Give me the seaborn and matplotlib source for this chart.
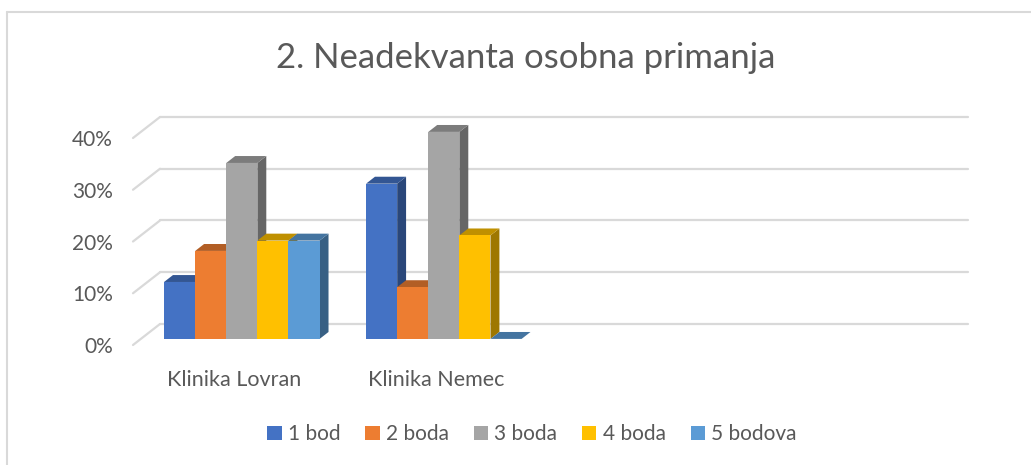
import matplotlib
matplotlib.use("Agg")
import matplotlib.pyplot as plt
import seaborn as sns
import pandas as pd
import numpy as np
from matplotlib.patches import Polygon, Rectangle
from matplotlib.lines import Line2D
import matplotlib.colors as mcolors

# ---- data ----
categories = ["Klinika Lovran", "Klinika Nemec"]
series = ["1 bod", "2 boda", "3 boda", "4 boda", "5 bodova"]
lovran = [0.11, 0.17, 0.34, 0.19, 0.19]
nemec = [0.30, 0.10, 0.40, 0.20, 0.00]
colors = ["#4472C4", "#ED7D31", "#A5A5A5", "#FFC000", "#5B9BD5"]
yticks = [0.0, 0.1, 0.2, 0.3, 0.4]
ytick_labels = ["0%", "10%", "20%", "30%", "40%"]
title = "2. Neadekvanta osobna primanja"

df = pd.DataFrame({
    "cat": [c for c in categories for _ in series],
    "series": series * len(categories),
    "val": lovran + nemec,
})

sns.set_theme(style="white")
plt.rcParams["font.family"] = ["Lato", "DejaVu Sans"]

W, H = 1031, 465
fig = plt.figure(figsize=(W / 100, H / 100), dpi=100)

# front plane of the floor: pixel x 133..941, y 345 (0%) .. 138 (40%)
L, R, B, T = 133, 941, 345, 138
ax = fig.add_axes([L / W, 1 - B / H, (R - L) / W, (B - T) / H])
ax.set_facecolor("none")

sns.barplot(data=df, x="cat", y="val", hue="series", order=categories,
            hue_order=series, palette=colors, width=0.77, ax=ax,
            legend=False, saturation=1, linewidth=0, errorbar=None)

ax.set_xlim(-0.5, 3.5)
ax.set_ylim(0, 0.4)

# pixel -> data conversions
px_x = 4.0 / (R - L)
px_y = 0.4 / (B - T)
depth = (27, 21)  # floor depth vector in px (right, up)
f0, f1 = 0.29, 0.62

grid_c = "#D9D9D9"
# back wall gridlines + left side diagonals
for yv in yticks:
    xb0 = -0.5 + depth[0] * px_x
    xb1 = 3.5 + depth[0] * px_x
    yb = yv + depth[1] * px_y
    ax.add_line(Line2D([xb0, xb1], [yb, yb], color=grid_c, lw=1.6,
                       zorder=0, clip_on=False))
    ax.add_line(Line2D([-0.5, xb0], [yv, yb], color=grid_c, lw=1.6,
                       zorder=0, clip_on=False))

def shade(c, f):
    r, g, b = mcolors.to_rgb(c)
    return (r * f, g * f, b * f)

# turn seaborn bars into 3D-looking boxes
patches = [p for p in ax.patches if isinstance(p, Rectangle)]
for p in patches:
    x0, w, h = p.get_x(), p.get_width(), p.get_height()
    col = p.get_facecolor()
    ox = f0 * depth[0] * px_x
    oy = f0 * depth[1] * px_y
    dx = (f1 - f0) * depth[0] * px_x
    dy = (f1 - f0) * depth[1] * px_y
    p.set_x(x0 + ox)
    p.set_y(oy)
    p.set_zorder(3)
    p.set_clip_on(False)
    xa, xb = x0 + ox, x0 + ox + w
    ya, yb = oy, oy + h
    side = Polygon([(xb, ya), (xb + dx, ya + dy), (xb + dx, yb + dy), (xb, yb)],
                   closed=True, facecolor=shade(col, 0.62), edgecolor="none",
                   zorder=2, clip_on=False)
    top = Polygon([(xa, yb), (xb, yb), (xb + dx, yb + dy), (xa + dx, yb + dy)],
                  closed=True, facecolor=shade(col, 0.75), edgecolor="none",
                  zorder=2, clip_on=False)
    ax.add_patch(side)
    ax.add_patch(top)

for s in ax.spines.values():
    s.set_visible(False)
ax.set_xlabel("")
ax.set_ylabel("")
ax.set_yticks(yticks)
ax.set_yticklabels(ytick_labels, color="#595959", fontsize=15)
ax.set_xticks(range(len(categories)))
ax.set_xticklabels(categories, color="#595959", fontsize=15.5)
ax.tick_params(axis="y", length=0, pad=14.5)
ax.tick_params(axis="x", length=0, pad=18)

fig.text(526 / W, 1 - 58 / H, title, ha="center", va="center",
         fontsize=25, color="#595959")

handles = [Rectangle((0, 0), 1, 1, facecolor=c, edgecolor="none") for c in colors]
fig.legend(handles, series, loc="center", bbox_to_anchor=(532 / W, 1 - 434 / H),
           ncol=5, frameon=False, fontsize=15, handlelength=0.68, handleheight=0.68,
           handletextpad=0.3, columnspacing=1.2, labelcolor="#595959")

# outer chart border
fig.add_artist(Line2D([6.5 / W, 6.5 / W], [0, 1 - 12.5 / H], transform=fig.transFigure,
                      color=grid_c, lw=1.5))
fig.add_artist(Line2D([6.5 / W, 1], [1 - 12.5 / H, 1 - 12.5 / H], transform=fig.transFigure,
                      color=grid_c, lw=1.5))

fig.savefig("out.png", dpi=100, facecolor="white")
